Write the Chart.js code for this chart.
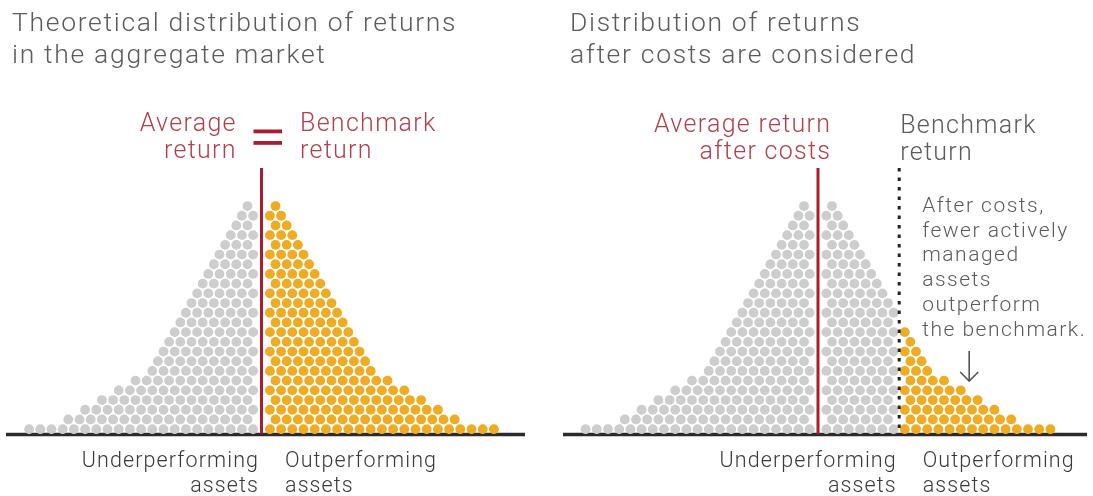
<!DOCTYPE html>
<html>
<head>
<meta charset="utf-8">
<script src="https://cdn.jsdelivr.net/npm/chart.js@4.4.0/dist/chart.umd.min.js"></script>
<style>
  html, body { margin: 0; padding: 0; background: #fff; }
  #wrap { position: relative; width: 1093px; height: 496px; }
  .panel { position: absolute; top: 0; height: 496px; }
  #leftPanel { left: 0; width: 546px; }
  #rightPanel { left: 546px; width: 547px; }
</style>
</head>
<body>
<div id="wrap">
  <div class="panel" id="leftPanel"><canvas id="marketChart"></canvas></div>
  <div class="panel" id="rightPanel"><canvas id="costsChart"></canvas></div>
</div>
<script>
'use strict';

// dots per row, bottom row first, on each side of the average return
const rowsBelowAverage = [21, 17, 16, 14, 13, 11, 10, 9, 9, 8, 8, 7, 7, 6, 6, 5, 5, 4, 4, 3, 3, 2, 2, 1];
const rowsAboveAverage = [21, 17, 16, 14, 13, 11, 10, 9, 9, 8, 8, 7, 7, 6, 6, 5, 5, 4, 4, 3, 3, 2, 2, 1];

// benchmark return, in dot widths from the average return
const benchmarkMarket = 0;
const benchmarkAfterCosts = 7.25;

const titleMarket = ['Theoretical distribution of returns', 'in the aggregate market'];
const titleCosts = ['Distribution of returns', 'after costs are considered'];
const averageLabel = ['Average', 'return'];
const benchmarkLabel = ['Benchmark', 'return'];
const averageCostsLabel = ['Average return', 'after costs'];
const calloutLines = ['After costs,', 'fewer actively', 'managed', 'assets', 'outperform', 'the benchmark.'];
const underLabel = ['Underperforming', 'assets'];
const overLabel = ['Outperforming', 'assets'];

const GREY = '#cdcdcd';
const GOLD = '#efab22';
const RED = '#a71d31';
const RED_TEXT = '#b0404d';
const TEXT_GREY = '#5b5b5b';
const FONT = "'Roboto', 'Liberation Sans', sans-serif";

const ROW_PX = 9.7;
const DOT_PX = 11.2;
const BASE_Y = 434;

function buildDots(benchmark) {
  const grey = [];
  const gold = [];
  const place = (x, y) => {
    if (Math.abs(x - benchmark) < 0.01 && benchmark !== 0) return;
    (x < benchmark ? grey : gold).push({ x, y });
  };
  rowsBelowAverage.forEach((count, row) => {
    const start = row % 2 === 0 ? 0.75 : 1.25;
    for (let k = 0; k < count; k++) place(-(start + k), row + 0.5);
  });
  rowsAboveAverage.forEach((count, row) => {
    const start = row % 2 === 0 ? 0.75 : 1.25;
    for (let k = 0; k < count; k++) place(start + k, row + 0.5);
  });
  return { grey, gold };
}

// text is tracked out a little, the original face runs wider than Roboto
function textLines(ctx, lines, x, y, step, align, color, size, spacing) {
  ctx.save();
  ctx.font = `300 ${size}px ${FONT}`;
  ctx.fillStyle = color;
  ctx.textAlign = align;
  ctx.textBaseline = 'alphabetic';
  if ('letterSpacing' in ctx) ctx.letterSpacing = spacing + 'px';
  const dx = align === 'right' ? spacing : 0;
  lines.forEach((line, i) => ctx.fillText(line, x + dx, y + i * step));
  ctx.restore();
}

function vline(ctx, x, y0, y1, color, width, dash) {
  ctx.save();
  ctx.strokeStyle = color;
  ctx.lineWidth = width;
  ctx.setLineDash(dash || []);
  ctx.beginPath();
  ctx.moveTo(x, y0);
  ctx.lineTo(x, y1);
  ctx.stroke();
  ctx.restore();
}

const overlayPlugin = {
  id: 'overlay',
  beforeDatasetsDraw(chart) {
    const o = chart.options.plugins.overlay;
    const ctx = chart.ctx;
    const baseY = chart.scales.y.getPixelForValue(0);

    textLines(ctx, o.title, o.titleX, 31, 31.5, 'left', TEXT_GREY, 26.5, 1.7);

    // baseline
    ctx.save();
    ctx.strokeStyle = '#2b2b2b';
    ctx.lineWidth = 3.5;
    ctx.beginPath();
    ctx.moveTo(o.baseFrom, baseY + 0.5);
    ctx.lineTo(o.baseTo, baseY + 0.5);
    ctx.stroke();
    ctx.restore();
  },
  afterDatasetsDraw(chart) {
    const o = chart.options.plugins.overlay;
    const ctx = chart.ctx;
    const xs = chart.scales.x;
    const baseY = chart.scales.y.getPixelForValue(0);
    const avgX = xs.getPixelForValue(0);
    const benchX = xs.getPixelForValue(o.benchmark);

    vline(ctx, avgX, 168, baseY, RED, 3);

    if (o.benchmark === 0) {
      textLines(ctx, averageLabel, avgX - 26, 130.5, 27.5, 'right', RED_TEXT, 25, 1.3);
      textLines(ctx, benchmarkLabel, avgX + 38.5, 130.5, 27.5, 'left', RED_TEXT, 25, 1.3);
      ctx.save();
      ctx.fillStyle = RED;
      ctx.fillRect(avgX - 8, 129.5, 28.5, 3.8);
      ctx.fillRect(avgX - 8, 141, 28.5, 3.8);
      ctx.restore();
    } else {
      textLines(ctx, averageCostsLabel, avgX + 12, 131.5, 27, 'right', RED_TEXT, 25, 1.3);
      textLines(ctx, benchmarkLabel, benchX + 1, 132.5, 27, 'left', TEXT_GREY, 25, 1.3);
      vline(ctx, benchX, 168, baseY, '#222', 3, [3.5, 6]);
      textLines(ctx, calloutLines, benchX + 23, 212, 24.7, 'left', TEXT_GREY, 21, 1.5);
      // arrow
      const ax = benchX + 70;
      ctx.save();
      ctx.strokeStyle = '#555';
      ctx.lineWidth = 1.6;
      ctx.beginPath();
      ctx.moveTo(ax, 351);
      ctx.lineTo(ax, 381);
      ctx.moveTo(ax - 9, 372);
      ctx.lineTo(ax, 381);
      ctx.lineTo(ax + 9, 372);
      ctx.stroke();
      ctx.restore();
    }

    textLines(ctx, underLabel, benchX - 3.5, 467, 25, 'right', '#3a3a3a', 21.5, 1.1);
    textLines(ctx, overLabel, benchX + 23.5, 467, 25, 'left', '#3a3a3a', 21.5, 1.1);
  }
};

function makeChart(canvasId, benchmark, xMin, xMax, extra) {
  const dots = buildDots(benchmark);
  const canvas = document.getElementById(canvasId);
  return new Chart(canvas.getContext('2d'), {
    type: 'scatter',
    data: {
      datasets: [
        { label: 'Underperforming assets', data: dots.grey, backgroundColor: GREY, pointRadius: 4.9, borderWidth: 0 },
        { label: 'Outperforming assets', data: dots.gold, backgroundColor: GOLD, pointRadius: 4.9, borderWidth: 0 }
      ]
    },
    options: {
      responsive: true,
      maintainAspectRatio: false,
      animation: false,
      events: [],
      layout: { autoPadding: false, padding: { top: 0, left: 0, right: 0, bottom: 496 - BASE_Y } },
      scales: {
        x: { type: 'linear', min: xMin, max: xMax, display: false },
        y: { type: 'linear', min: 0, max: BASE_Y / ROW_PX, display: false }
      },
      plugins: {
        legend: { display: false },
        tooltip: { enabled: false },
        overlay: Object.assign({ benchmark }, extra)
      }
    },
    plugins: [overlayPlugin]
  });
}

// left panel: average return sits at 261.5px, right panel at 818px of the page
makeChart('marketChart', benchmarkMarket, -261.5 / DOT_PX, (546 - 261.5) / DOT_PX,
  { title: titleMarket, titleX: 12, baseFrom: 6, baseTo: 525 });
makeChart('costsChart', benchmarkAfterCosts, -272 / DOT_PX, (547 - 272) / DOT_PX,
  { title: titleCosts, titleX: 24, baseFrom: 17, baseTo: 541 });
</script>
</body>
</html>
